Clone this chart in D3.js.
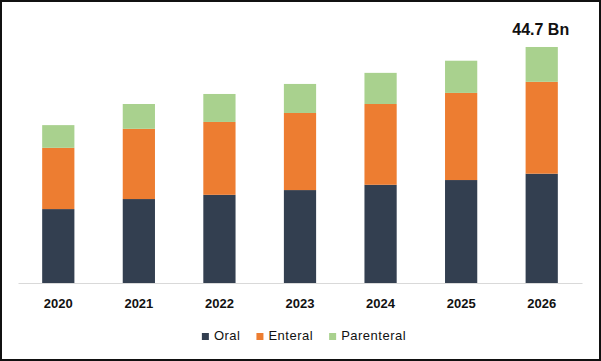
<!DOCTYPE html>
<html>
<head>
<meta charset="utf-8">
<script src="https://cdn.jsdelivr.net/npm/d3@7"></script>
<style>
  body { margin: 0; background: #fff; }
  svg { display: block; font-family: "Liberation Sans", Arial, sans-serif; }
</style>
</head>
<body>
<div id="chart"></div>
<script>
// data (USD Bn)
const years = ['2020', '2021', '2022', '2023', '2024', '2025', '2026'];
const oral = [14.0, 15.9, 16.7, 17.6, 18.6, 19.5, 20.7];
const enteral = [11.6, 13.3, 13.8, 14.6, 15.3, 16.5, 17.4];
const parenteral = [4.3, 4.7, 5.3, 5.5, 5.9, 6.1, 6.6];
const seriesNames = ['Oral', 'Enteral', 'Parenteral'];
const seriesColors = ['#333f50', '#ed7d31', '#a9d18e'];
const topLabel = '44.7 Bn';

const W = 601, H = 361;
const svg = d3.select('#chart').append('svg')
    .attr('width', W)
    .attr('height', H);

// outer frame
svg.append('rect')
    .attr('x', 1).attr('y', 1)
    .attr('width', W - 2).attr('height', H - 2)
    .attr('fill', '#fff')
    .attr('stroke', '#111')
    .attr('stroke-width', 2);

const x = d3.scaleBand()
    .domain(years)
    .range([18, 582])
    .paddingInner(0.6)
    .paddingOuter(0.3);

const y = d3.scaleLinear()
    .domain([0, 50])
    .range([283, 19]);

// stack table built from the arrays
const table = years.map((yr, i) => ({
    year: yr, Oral: oral[i], Enteral: enteral[i], Parenteral: parenteral[i]
}));
const stacked = d3.stack().keys(seriesNames)(table);

svg.append('g')
    .selectAll('g')
    .data(stacked)
    .join('g')
    .attr('fill', (d, i) => seriesColors[i])
    .selectAll('rect')
    .data(d => d)
    .join('rect')
    .attr('x', d => x(d.data.year))
    .attr('y', d => y(d[1]))
    .attr('width', x.bandwidth())
    .attr('height', d => y(d[0]) - y(d[1]));

// x axis
const xAxis = svg.append('g')
    .attr('transform', 'translate(0,283)')
    .call(d3.axisBottom(x).tickSize(0).tickPadding(16));
xAxis.select('.domain').attr('stroke', '#d9d9d9').attr('stroke-width', 1);
xAxis.selectAll('text')
    .attr('fill', '#111')
    .style('font-size', '13px')
    .style('font-weight', 'bold');

// value label over the last bar
const last = stacked[stacked.length - 1][years.length - 1];
svg.append('text')
    .attr('x', x(years[years.length - 1]) + x.bandwidth() / 2 - 1)
    .attr('y', y(last[1]) - 12)
    .attr('text-anchor', 'middle')
    .attr('fill', '#111')
    .style('font-size', '16px')
    .style('font-weight', 'bold')
    .text(topLabel);

// legend
const legend = svg.append('g').attr('transform', 'translate(0,340)');
let cx = 0;
seriesNames.forEach((name, i) => {
    const g = legend.append('g');
    g.append('rect')
        .attr('x', 0).attr('y', -7)
        .attr('width', 7).attr('height', 7)
        .attr('fill', seriesColors[i]);
    const t = g.append('text')
        .attr('x', 12)
        .attr('fill', '#111')
        .style('font-size', '13px')
        .style('letter-spacing', '0.5px')
        .text(name);
    g.attr('transform', `translate(${cx},0)`);
    cx += 12 + t.node().getComputedTextLength() + 16;
});
const legendWidth = cx - 16;
legend.attr('transform', `translate(${304 - legendWidth / 2},340)`);
</script>
</body>
</html>
